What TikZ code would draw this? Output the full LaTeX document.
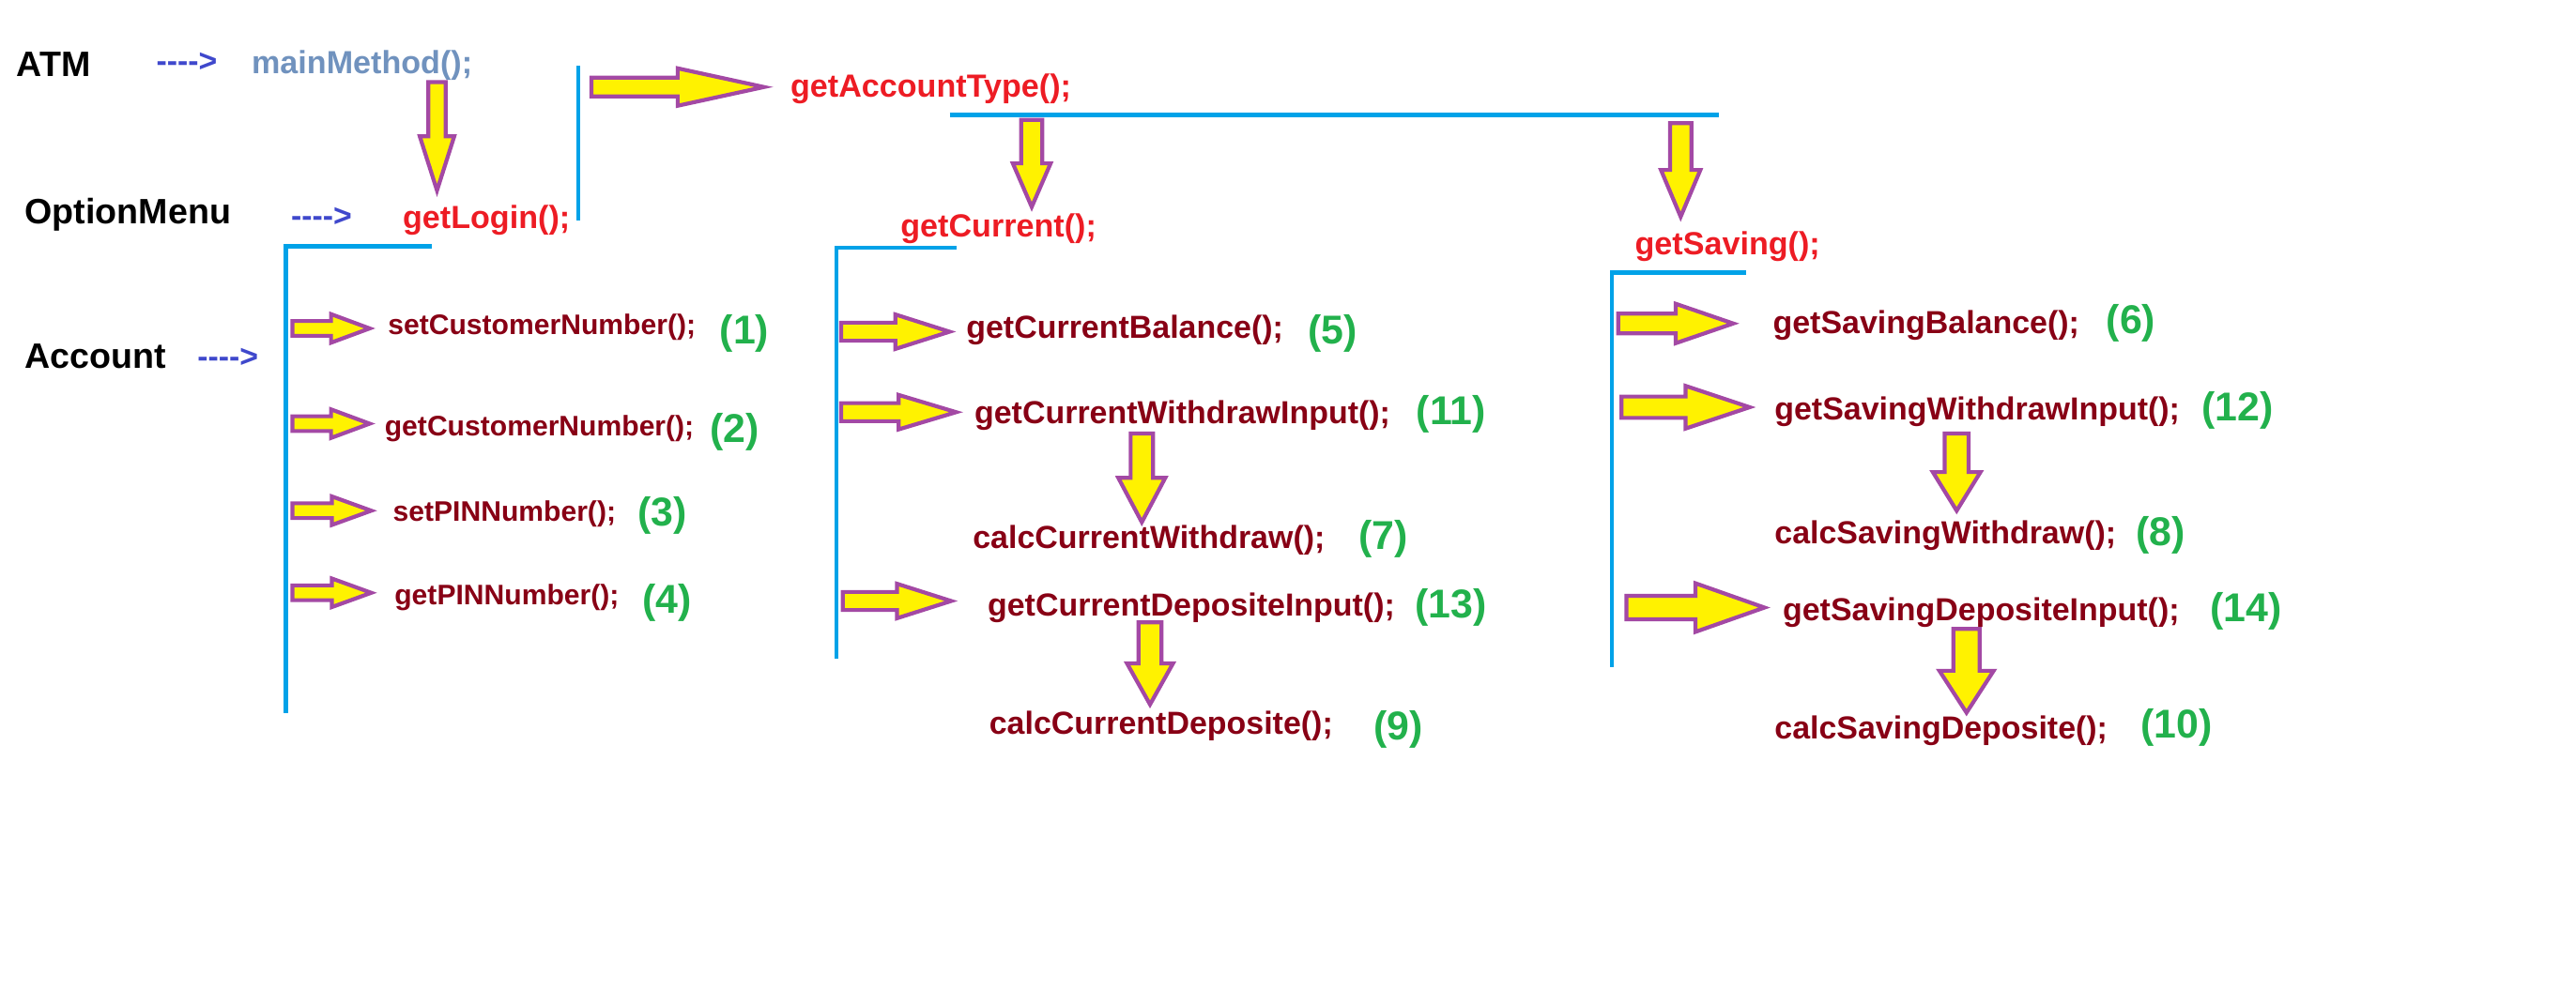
\documentclass[tikz,border=0pt]{standalone}
\usepackage{fontspec}
\setmainfont{Liberation Sans}
\definecolor{rouge}{RGB}{237,28,36}
\definecolor{bordeaux}{RGB}{136,0,21}
\definecolor{vert}{RGB}{34,177,76}
\definecolor{bleuligne}{RGB}{0,162,232}
\definecolor{jaune}{RGB}{255,242,0}
\definecolor{mauve}{RGB}{163,73,164}
\definecolor{bleufonce}{RGB}{63,72,204}
\definecolor{acier}{RGB}{112,146,190}

\begin{document}
\begin{tikzpicture}[x=1pt, y=-1pt, anchor=west,
	titre/.style={inner sep=0pt, font=\fontsize{21.5}{22}\selectfont\bfseries},
	tiret/.style={inner sep=0pt, text=bleufonce, font=\fontsize{19.3}{20}\selectfont\bfseries},
	appel/.style={inner sep=0pt, text=rouge, font=\fontsize{19.5}{20}\selectfont\bfseries},
	compte/.style={inner sep=0pt, text=bordeaux, font=\fontsize{17.2}{18}\selectfont\bfseries},
	methode/.style={inner sep=0pt, text=bordeaux, font=\fontsize{19.4}{20}\selectfont\bfseries},
	numero/.style={inner sep=0pt, text=vert, font=\fontsize{24.5}{25}\selectfont\bfseries},
	trait/.style={draw=bleuligne, line width=2.5pt}]

		\useasboundingbox (0,0) rectangle (1568,611);

		% fleche vers la droite : x, y, longueur, demi-tige, demi-tete
		\newcommand{\mkdroite}[5]{
			\filldraw[fill=jaune, draw=mauve, line width=2.4pt]
				(#1,#2-#4) -- (#1+0.5*#3,#2-#4) -- (#1+0.5*#3,#2-#5) -- (#1+#3,#2)
				-- (#1+0.5*#3,#2+#5) -- (#1+0.5*#3,#2+#4) -- (#1,#2+#4) -- cycle;
		}
		% fleche vers le bas : x, y, longueur, demi-tige, demi-tete
		\newcommand{\mkbas}[5]{
			\filldraw[fill=jaune, draw=mauve, line width=2.4pt]
				(#1-#4,#2) -- (#1+#4,#2) -- (#1+#4,#2+0.5*#3) -- (#1+#5,#2+0.5*#3) -- (#1,#2+#3)
				-- (#1-#5,#2+0.5*#3) -- (#1-#4,#2+0.5*#3) -- cycle;
		}

		%les classes
		\node[titre] (atm) at (10,39) {ATM};
		\node[titre] (menu) at (15,131) {OptionMenu};
		\node[titre] (acc) at (15,217) {Account};
		\node[tiret] (t1) at (95,38) {-{}-{}-{}->};
		\node[tiret] (t2) at (177,132) {-{}-{}-{}->};
		\node[tiret] (t3) at (120,218) {-{}-{}-{}->};

		%les appels
		\node[appel, text=acier] (main) at (153,40) {mainMethod();};
		\node[appel] (login) at (245,134) {getLogin();};
		\node[appel] (type) at (481,54) {getAccountType();};
		\node[appel] (cur) at (548,139) {getCurrent();};
		\node[appel] (sav) at (995,150) {getSaving();};

		%tracer les traits
		\draw[trait] (352,40) -- (352,134);
		\draw[trait] (578,70) -- (1046,70);
		\draw[trait] (174,434) -- (174,150) -- (263,150);
		\draw[trait] (509,401) -- (509,151) -- (582,151);
		\draw[trait] (981,406) -- (981,166) -- (1063,166);

		%les grosses fleches
		\mkbas{266}{50}{66}{5.3}{10.5}
		\mkdroite{360}{53}{105}{5.7}{11.4}
		\mkbas{628}{73}{53}{6.4}{11.5}
		\mkbas{1023}{75}{57}{6.5}{12}

		%Account
		\mkdroite{178}{200}{47}{4.5}{8.7}
		\mkdroite{178}{258}{47}{4.5}{8.7}
		\mkdroite{178}{311}{48}{4.5}{8.7}
		\mkdroite{178}{361}{48}{4.5}{8.7}
		\node[compte] (m1) at (236,199) {setCustomerNumber();};
		\node[compte] (m2) at (234,261) {getCustomerNumber();};
		\node[compte] (m3) at (239,313) {setPINNumber();};
		\node[compte] (m4) at (240,364) {getPINNumber();};
		\node[numero] (n1) at (438,203) {(1)};
		\node[numero] (n2) at (432,263) {(2)};
		\node[numero] (n3) at (388,314) {(3)};
		\node[numero] (n4) at (391,367) {(4)};

		%Current
		\mkdroite{512}{202}{66}{5.5}{10.5}
		\mkdroite{512}{251}{70}{5.5}{10.5}
		\mkdroite{513}{366}{66}{5.5}{10.5}
		\mkbas{695}{264}{54}{6.8}{14.3}
		\mkbas{700}{379}{50}{7}{14}
		\node[methode] (m5) at (588,201) {getCurrentBalance();};
		\node[methode] (m11) at (593,253) {getCurrentWithdrawInput();};
		\node[methode] (m7) at (592,329) {calcCurrentWithdraw();};
		\node[methode] (m13) at (601,370) {getCurrentDepositeInput();};
		\node[methode] (m9) at (602,442) {calcCurrentDeposite();};
		\node[numero] (n5) at (796,203) {(5)};
		\node[numero] (n11) at (862,252) {(11)};
		\node[numero] (n7) at (827,328) {(7)};
		\node[numero] (n13) at (861,370) {(13)};
		\node[numero] (n9) at (836,444) {(9)};

		%Saving
		\mkdroite{985}{197}{70}{6}{12}
		\mkdroite{987}{248}{78}{6.5}{13}
		\mkdroite{990}{370}{84}{7.1}{14.8}
		\mkbas{1191}{264}{47}{7.3}{14.5}
		\mkbas{1197}{383}{51}{8}{16.5}
		\node[methode] (m6) at (1079,198) {getSavingBalance();};
		\node[methode] (m12) at (1080,251) {getSavingWithdrawInput();};
		\node[methode] (m8) at (1080,326) {calcSavingWithdraw();};
		\node[methode] (m14) at (1085,373) {getSavingDepositeInput();};
		\node[methode] (m10) at (1080,445) {calcSavingDeposite();};
		\node[numero] (n6) at (1282,197) {(6)};
		\node[numero] (n12) at (1340,250) {(12)};
		\node[numero] (n8) at (1300,326) {(8)};
		\node[numero] (n14) at (1345,372) {(14)};
		\node[numero] (n10) at (1303,443) {(10)};

\end{tikzpicture}
\end{document}
